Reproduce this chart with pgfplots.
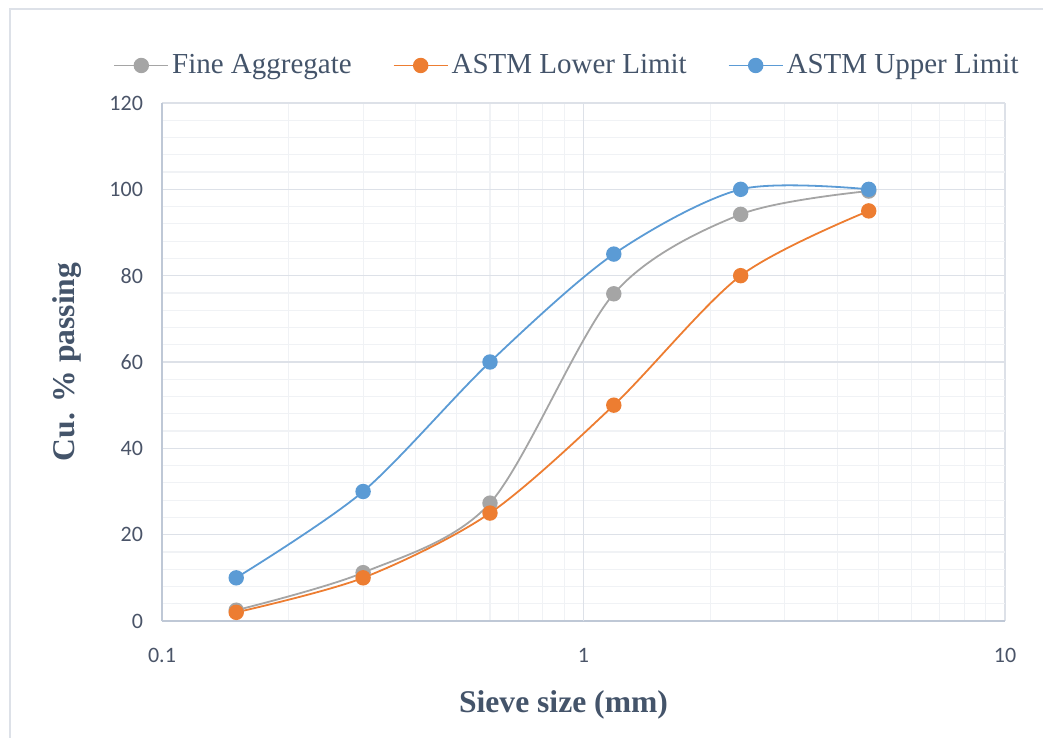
\documentclass[border=0pt]{standalone}
\usepackage{pgfplots}
\pgfplotsset{compat=1.18}
\usepackage{fontspec}
\setmainfont{Liberation Serif}
\newfontfamily\tickfont{Carlito}
\definecolor{cgray}{HTML}{A5A5A5}
\definecolor{corange}{HTML}{ED7D31}
\definecolor{cblue}{HTML}{5B9BD5}
\definecolor{txt}{HTML}{44546A}
\definecolor{ticktxt}{HTML}{4A5468}
\definecolor{axl}{HTML}{BFC8D6}
\definecolor{gmaj}{HTML}{DDE1E8}
\definecolor{gmin}{HTML}{F0F2F5}
\begin{document}
\begin{tikzpicture}
\path[use as bounding box] (0,0) rectangle (521.5pt,369pt);
\draw[color=gmaj, line width=0.6pt] (5pt,-2pt) rectangle (525pt,364.5pt);
\begin{axis}[
  at={(81pt,58.5pt)}, anchor=south west,
  scale only axis, width=421.5pt, height=259pt,
  xmode=log, xmin=0.1, xmax=10, ymin=0, ymax=120,
  xtick={0.1,1,10}, xticklabels={0.1,1,10},
  minor xtick={0.2,0.3,0.4,0.5,0.6,0.7,0.8,0.9,2,3,4,5,6,7,8,9},
  extra x ticks={1}, extra x tick labels={},
  extra x tick style={grid style={color=axl, line width=0.7pt}},
  ytick={0,20,40,60,80,100,120},
  minor ytick={4,8,12,16,24,28,32,36,44,48,52,56,64,68,72,76,84,88,92,96,104,108,112,116},
  grid=both,
  major grid style={color=gmaj, line width=0.6pt},
  minor grid style={color=gmin, line width=0.6pt},
  axis line style={color=axl, line width=0.7pt},
  axis x line*=bottom, axis y line*=left,
  major tick length=0pt, minor tick length=0pt,
  /pgf/number format/assume math mode=true,
  ticklabel style={font=\tickfont\fontsize{11}{13}\selectfont, text=ticktxt},
  yticklabel style={xshift=-6pt},
  xticklabel style={yshift=-10pt},
  xlabel={\textbf{Sieve size (mm)}},
  ylabel={\textbf{Cu. \% passing}},
  label style={font=\fontsize{15.8}{18}\selectfont, text=txt},
  xlabel style={yshift=-7pt, xshift=-10pt},
  ylabel style={yshift=7pt},
  legend columns=3,
  legend style={at={(0.5,1.0)}, anchor=south, yshift=9pt, xshift=-8pt, draw=none, fill=none,
    font=\fontsize{14.5}{16}\selectfont, text=txt,
    /tikz/every even column/.append style={column sep=19pt},
    nodes={inner xsep=1.5pt}},
  legend image code/.code={\draw[#1] (0pt,0pt) -- (27pt,0pt); \draw[#1, only marks] plot coordinates {(13.5pt,0pt)};},
  every axis plot/.append style={smooth, tension=0.5, line width=0.9pt, mark=*, mark size=3.4pt},
  clip=false,
]
\addplot[color=cgray, mark options={fill=cgray, draw=cgray}] coordinates {
 (0.15,2.5) (0.3,11.2) (0.6,27.3) (1.18,75.8) (2.36,94.2) (4.75,99.6)};
\addlegendentry{Fine Aggregate}
\addplot[color=corange, mark options={fill=corange, draw=corange}] coordinates {
 (0.15,2) (0.3,10) (0.6,25) (1.18,50) (2.36,80) (4.75,95)};
\addlegendentry{ASTM Lower Limit}
\addplot[color=cblue, mark options={fill=cblue, draw=cblue}] coordinates {
 (0.15,10) (0.3,30) (0.6,60) (1.18,85) (2.36,100) (4.75,100)};
\addlegendentry{ASTM Upper Limit}
\end{axis}
\end{tikzpicture}
\end{document}
